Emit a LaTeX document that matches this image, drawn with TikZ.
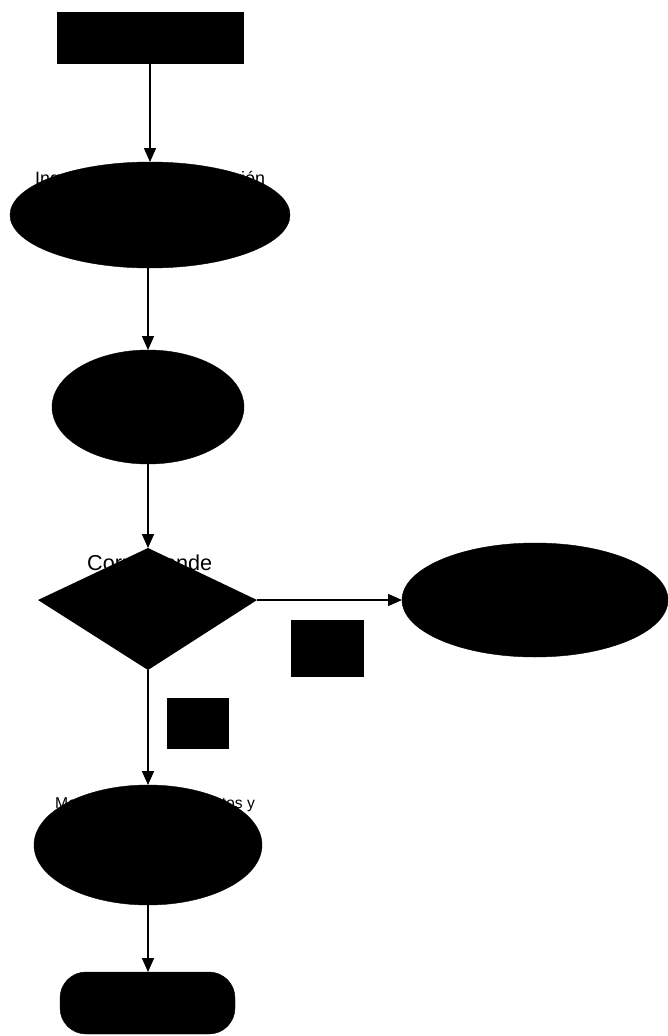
\documentclass[tikz,border=0pt]{standalone}
\usepackage{fontspec}
\setmainfont{Liberation Sans}
\usetikzlibrary{shapes.geometric,arrows.meta}
\tikzset{
  blk/.style={fill=black, draw=black, inner sep=0pt, outer sep=0pt},
  oval/.style={blk, ellipse},
  box/.style={blk, rectangle},
  conn/.style={draw=black, line width=1.5pt, -{Triangle[length=14pt,width=12pt]}},
  lbl/.style={text=black, inner sep=0pt, anchor=base west}
}
\begin{document}
\begin{tikzpicture}[x=1pt,y=-1pt]
\useasboundingbox (0,0) rectangle (668,1036);
\fill[white] (0,0) rectangle (668,1036);
% shapes
\node[box, minimum width=186pt, minimum height=51pt] (start) at (150,38) {};
\node[oval, minimum width=280pt, minimum height=106pt] (e1) at (150,215) {};
\node[oval, minimum width=192pt, minimum height=114pt] (e2) at (148,407) {};
\coordinate (dtop) at (148,548);
\coordinate (dleft) at (38,600);
\coordinate (dright) at (257,600);
\coordinate (dbot) at (148,670);
\fill[black] (dtop) -- (dright) -- (dbot) -- (dleft) -- cycle;
\node[oval, minimum width=266pt, minimum height=114pt] (e3) at (535,600) {};
\node[box, minimum width=72pt, minimum height=56pt] (no) at (327,648) {};
\node[box, minimum width=61pt, minimum height=50pt] (yes) at (197.5,723) {};
\node[oval, minimum width=228pt, minimum height=120pt] (e4) at (148,845) {};
\node[box, rounded corners=26pt, minimum width=175pt, minimum height=62pt] (end) at (147.5,1003) {};
% texts
\node[lbl, font=\fontsize{17.9}{20}\selectfont] (t1) at (35,184) {Ingreso de la documentación};
\node[lbl, font=\fontsize{21.6}{24}\selectfont] (t2) at (87,570) {Corresponde};
\node[lbl, font=\fontsize{15.7}{18}\selectfont] (t3) at (55,808) {Manejo de los documentos y};
% connectors
\draw[conn] (start.south) -- (e1.north);
\draw[conn] (e2.north |- e1.south) -- (e2.north);
\draw[conn] (e2.south) -- (dtop);
\draw[conn] (dright) -- (e3.west);
\draw[conn] (dbot) -- (e4.north);
\draw[conn] (e4.south) -- (end.north -| e4.south);
\end{tikzpicture}
\end{document}
